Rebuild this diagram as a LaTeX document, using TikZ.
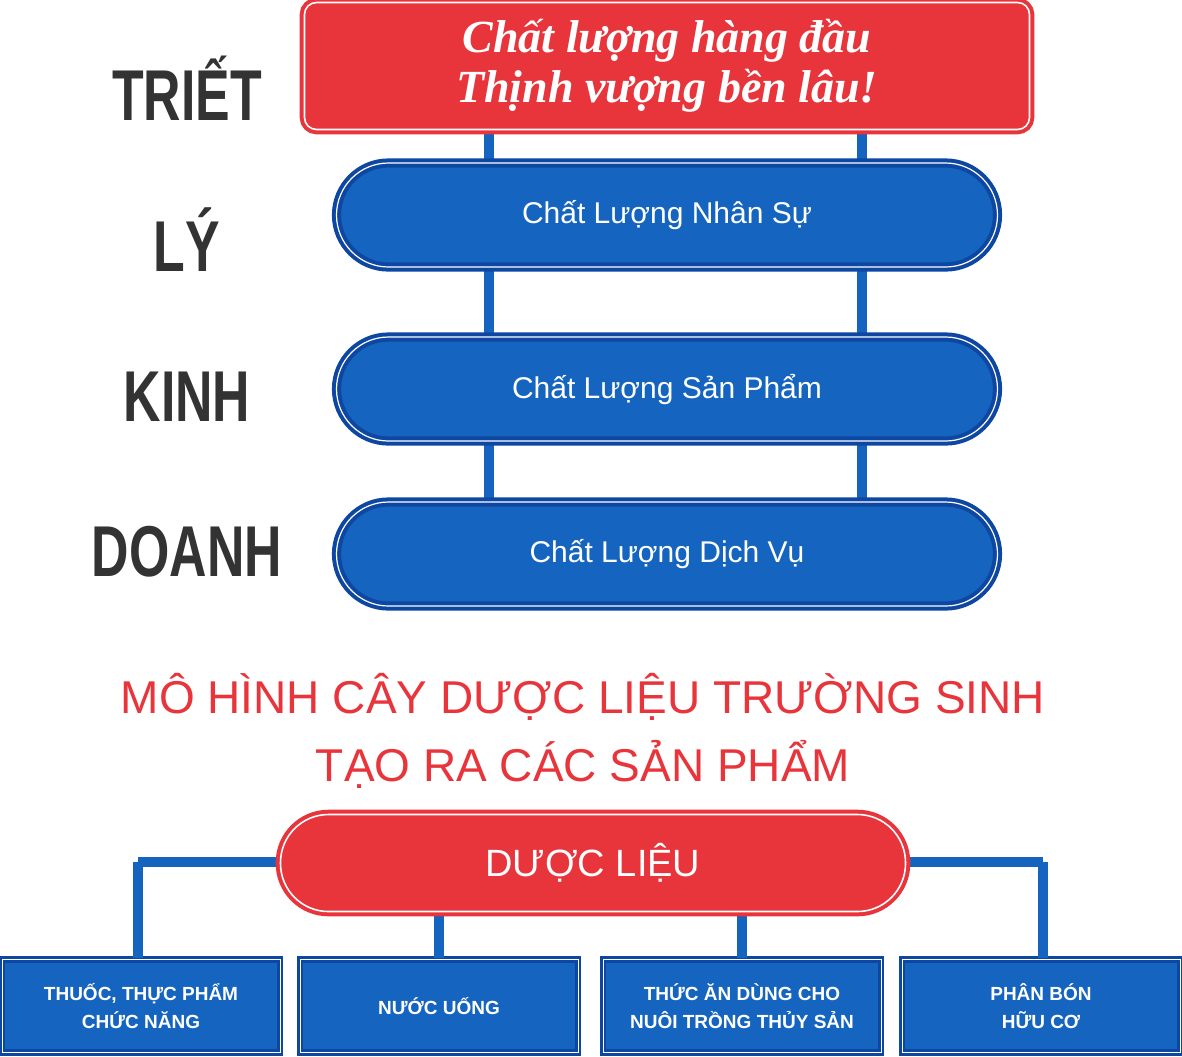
\documentclass[tikz,border=0pt]{standalone}
\usepackage{fontspec}
\setmainfont{Liberation Sans}
\newfontfamily\mottofont{Liberation Serif}
\usetikzlibrary{positioning}
\definecolor{brandred}{HTML}{E8343B}
\definecolor{brandblue}{HTML}{1565C0}
\definecolor{darkblue}{HTML}{0D47A1}
\definecolor{wordgray}{HTML}{333333}

\begin{document}
\begin{tikzpicture}[x=0.5pt, y=-0.5pt,
    pill/.style={draw=darkblue, line width=2pt, fill=brandblue, rounded corners=26pt, minimum width=330.5pt, minimum height=52pt, text=white, font=\fontsize{15}{15}\selectfont, double=white, double distance=0.6pt},
    redpill/.style={draw=brandred, line width=2pt, fill=brandred, rounded corners=24pt, minimum width=312.5pt, minimum height=48.5pt, text=white, font=\fontsize{19}{19}\selectfont, double=white, double distance=0.8pt},
    leaf/.style={draw=darkblue, line width=1.5pt, fill=brandblue, minimum width=139pt, minimum height=46.5pt, text=white, align=center, font=\bfseries\fontsize{9.5}{14}\selectfont, double=white, double distance=0.4pt},
    word/.style={text=wordgray, font=\bfseries\fontsize{36}{36}\selectfont, xscale=0.72},
    link/.style={draw=brandblue, line width=5pt}]
    \useasboundingbox (0,0) rectangle (1182,1056);
    % connectors behind boxes
    \draw[link] (489,100) -- (489,560);
    \draw[link] (862,100) -- (862,560);
    \node[draw=brandred, line width=2pt, fill=brandred, rounded corners=6pt, minimum width=362.5pt, minimum height=63.5pt, double=white, double distance=0.8pt, text=white, align=center, font=\mottofont\bfseries\itshape\fontsize{23}{25}\selectfont] (motto) at (667,66) {Chất lượng hàng đầu\\Thịnh vượng bền lâu!};
    \node[pill] (staff) at (667,215) {Chất Lượng Nhân Sự};
    \node[pill] (product) at (667,389) {Chất Lượng Sản Phẩm};
    \node[pill] (service) at (667,554) {Chất Lượng Dịch Vụ};
    \node[word] at (187,88) {TRIẾT};
    \node[word] at (187,240) {LÝ};
    \node[word] at (187,397) {KINH};
    \node[word] at (187,552) {DOANH};
    \node[text=brandred, align=center, font=\fontsize{23}{34}\selectfont] (title) at (583,731) {MÔ HÌNH CÂY DƯỢC LIỆU TRƯỜNG SINH\\TẠO RA CÁC SẢN PHẨM};
    % bottom tree
    \coordinate (lcorner) at (138,862);
    \coordinate (rcorner) at (1043,862);
    \node[leaf] (drug) at (141,1006) {THUỐC, THỰC PHẨM\\CHỨC NĂNG};
    \node[leaf] (water) at (439,1006) {NƯỚC UỐNG};
    \node[leaf] (feed) at (742,1006) {THỨC ĂN DÙNG CHO\\NUÔI TRỒNG THỦY SẢN};
    \node[leaf] (fert) at (1041,1006) {PHÂN BÓN\\HỮU CƠ};
    \draw[link] (lcorner) -- (rcorner);
    \draw[link] (lcorner) -- (lcorner |- drug.north);
    \draw[link] (rcorner) -- (rcorner |- fert.north);
    \draw[link] (water.north) -- ++(0,-50);
    \draw[link] (feed.north) -- ++(0,-50);
    \node[redpill] (herb) at (593,863) {DƯỢC LIỆU};
\end{tikzpicture}
\end{document}
